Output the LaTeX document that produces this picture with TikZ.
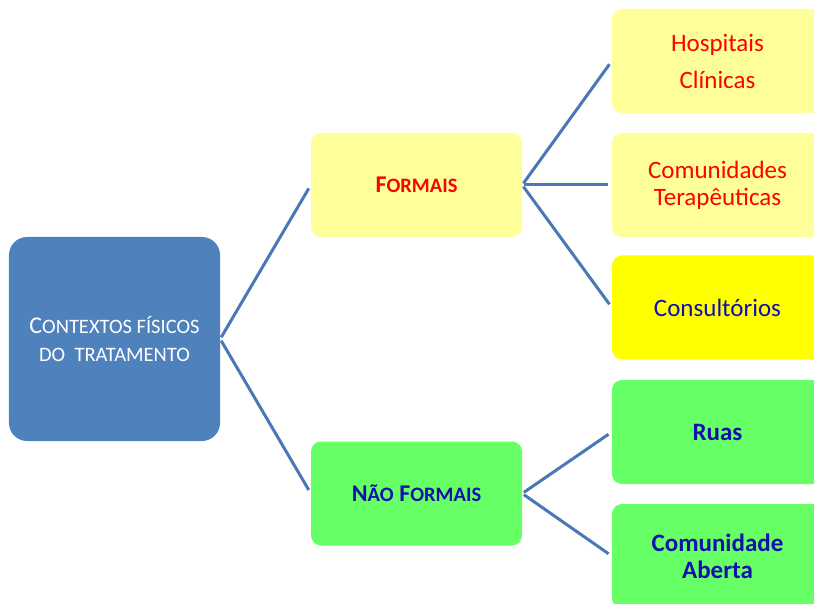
\documentclass[tikz,border=0pt]{standalone}
\usepackage{fontspec}
\setmainfont{Carlito}
\definecolor{rootblue}{HTML}{4F81BD}
\definecolor{linkblue}{HTML}{4A78B4}
\definecolor{paleyellow}{HTML}{FFFF99}
\definecolor{brightyellow}{HTML}{FFFF00}
\definecolor{lightgreen}{HTML}{66FF66}
\definecolor{txtred}{HTML}{FF0000}
\definecolor{txtblue}{HTML}{1010AA}
% fake small caps: full-size initial, reduced capitals for the rest
\newcommand\capinit[1]{{\fontsize{24bp}{28bp}\selectfont #1}}
\newcommand\capsmall[1]{{\fontsize{20.5bp}{28bp}\selectfont #1}}
\tikzset{
  box/.style={rectangle, rounded corners=10bp, minimum width=211bp, minimum height=104bp,
    inner sep=0pt, align=center, font=\fontsize{25bp}{28bp}\selectfont},
  rootbox/.style={box, rounded corners=18bp, minimum height=204bp, fill=rootblue, text=white},
  pale/.style={box, fill=paleyellow, text=txtred},
  vivid/.style={box, fill=brightyellow, text=txtblue},
  grn/.style={box, fill=lightgreen, text=txtblue, font=\bfseries\fontsize{25bp}{27bp}\selectfont},
  conn/.style={draw=linkblue, line width=3bp, shorten >=4bp, shorten <=2bp}
}
\begin{document}
\begin{tikzpicture}[x=1bp, y=-1bp]
  \useasboundingbox (0,0) rectangle (814,604);
  \clip (0,0) rectangle (814,604);
  % root
  \node[rootbox] (root) at (114.5,339) {\capinit{C}\capsmall{ONTEXTOS FÍSICOS}\\\capsmall{DO\ \ TRATAMENTO}};
  % second level
  \node[pale, font=\bfseries] (formais) at (416.5,185) {\capinit{F}\capsmall{ORMAIS}};
  \node[grn] (naoformais) at (416.5,493.5) {\capinit{N}\capsmall{ÃO} \capinit{F}\capsmall{ORMAIS}};
  % leaves
  \node[pale, font=\fontsize{25bp}{37bp}\selectfont] (hosp) at (717.5,61) {Hospitais\\Clínicas};
  \node[pale, font=\fontsize{25bp}{27bp}\selectfont] (comter) at (717.5,185) {Comunidades\\Terapêuticas};
  \node[vivid] (consult) at (717.5,307.5) {Consultórios};
  \node[grn] (ruas) at (717.5,432) {Ruas};
  \node[grn] (comab) at (717.5,556) {Comunidade\\Aberta};
  % connectors
  \draw[conn] (root.east) -- (formais.west);
  \draw[conn] (root.east) -- (naoformais.west);
  \draw[conn] (formais.east) -- (hosp.west);
  \draw[conn] (formais.east) -- (comter.west);
  \draw[conn] (formais.east) -- (consult.west);
  \draw[conn] (naoformais.east) -- (ruas.west);
  \draw[conn] (naoformais.east) -- (comab.west);
\end{tikzpicture}
\end{document}
